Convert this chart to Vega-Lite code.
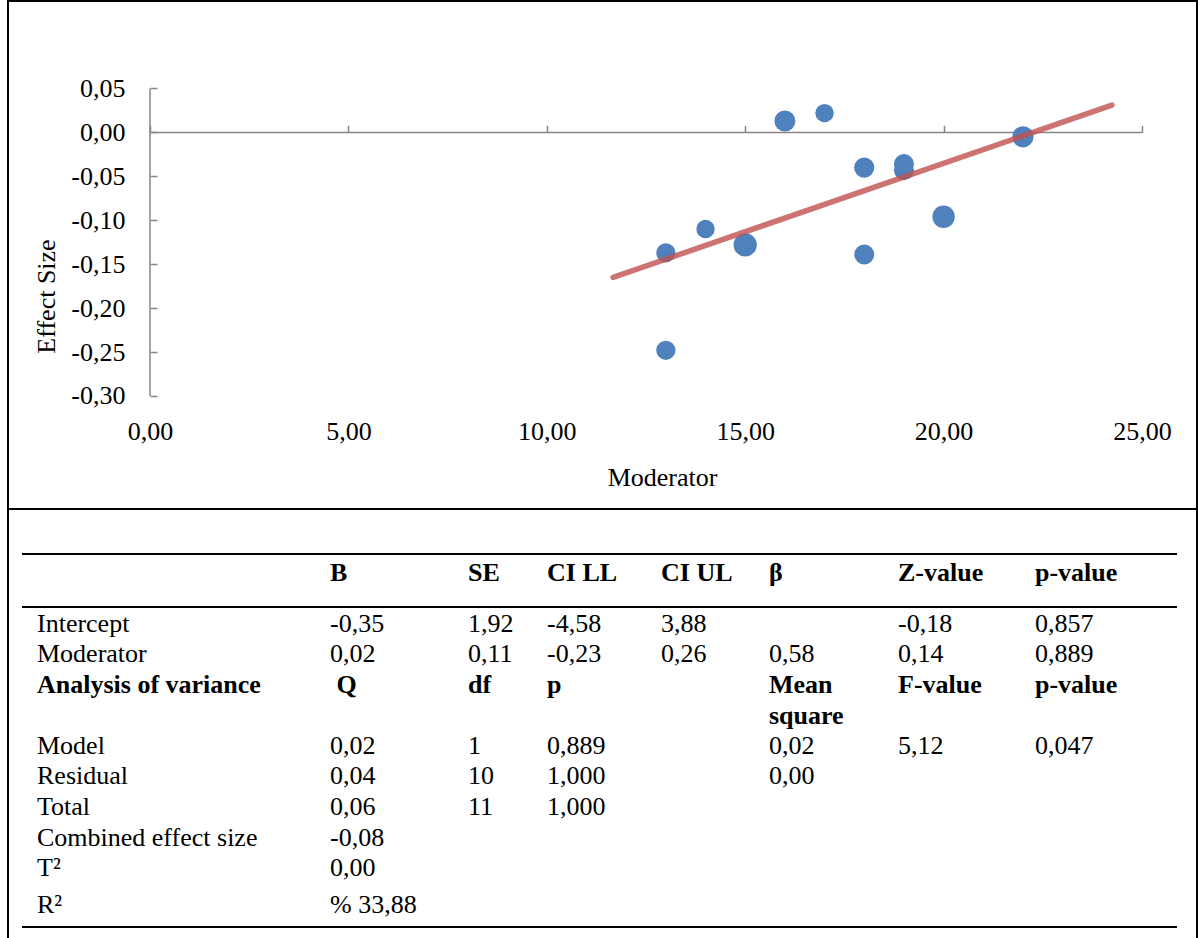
{
  "$schema": "https://vega.github.io/schema/vega-lite/v6.json",
  "background": "white",
  "padding": {"left": 7, "top": 0, "right": 0, "bottom": 0},
  "spacing": 0,
  "bounds": "flush",
  "config": {
    "font": "Liberation Serif",
    "view": {"stroke": "black", "strokeWidth": 2},
    "axis": {
      "labelFont": "Liberation Serif",
      "labelFontSize": 26,
      "labelColor": "black",
      "titleFont": "Liberation Serif",
      "titleFontSize": 26,
      "titleFontWeight": "normal",
      "titleColor": "black",
      "grid": false,
      "labelOverlap": false,
      "labelBound": false,
      "labelFlush": false
    }
  },
  "vconcat": [
    {
      "width": 1189,
      "height": 508,
      "view": {"stroke": "black", "strokeWidth": 2},
      "resolve": {"axis": {"x": "independent", "y": "independent"}},
      "layer": [
        {
          "data": {"values": [{}]},
          "mark": {"type": "rule", "color": "#868686", "strokeWidth": 1.5},
          "encoding": {
            "x": {"datum": 0, "type": "quantitative", "scale": {"domain": [-3.5786, 26.386], "nice": false, "zero": false}, "axis": null},
            "y": {"datum": -0.3, "type": "quantitative", "scale": {"domain": [-0.42862, 0.14959], "nice": false, "zero": false}, "axis": null},
            "y2": {"datum": 0.05}
          }
        },
        {
          "data": {"values": [{}]},
          "mark": {"type": "rule", "color": "#868686", "strokeWidth": 1.5},
          "encoding": {
            "x": {"datum": 0, "type": "quantitative", "scale": {"domain": [-3.5786, 26.386], "nice": false, "zero": false}, "axis": null},
            "x2": {"datum": 25},
            "y": {"datum": 0, "type": "quantitative", "scale": {"domain": [-0.42862, 0.14959], "nice": false, "zero": false}, "axis": null}
          }
        },
        {
          "data": {"values": [
            {"moderator": 13, "effect": -0.248, "weight": 37},
            {"moderator": 13, "effect": -0.137, "weight": 37},
            {"moderator": 14, "effect": -0.110, "weight": 34},
            {"moderator": 15, "effect": -0.128, "weight": 54},
            {"moderator": 16, "effect": 0.013, "weight": 44},
            {"moderator": 17, "effect": 0.022, "weight": 34},
            {"moderator": 18, "effect": -0.040, "weight": 41},
            {"moderator": 18, "effect": -0.139, "weight": 40},
            {"moderator": 19, "effect": -0.036, "weight": 40},
            {"moderator": 19, "effect": -0.043, "weight": 40},
            {"moderator": 20, "effect": -0.096, "weight": 50},
            {"moderator": 22, "effect": -0.005, "weight": 45}
          ]},
          "mark": {"type": "circle", "color": "#4F81BD", "opacity": 1},
          "encoding": {
            "x": {
              "field": "moderator", "type": "quantitative",
              "scale": {"domain": [-3.5786, 26.386], "nice": false, "zero": false},
              "axis": {
                "orient": "bottom", "offset": -113,
                "values": [0, 5, 10, 15, 20, 25],
                "domain": false, "ticks": false, "tickSize": 0, "labelPadding": 22,
                "labelExpr": "replace(replace(format(datum.value, '.2f'), '.', ','), '\u2212', '-')",
                "title": "Moderator", "titleX": 654, "titleY": 81,
                "titleAlign": "center", "titleBaseline": "middle"
              }
            },
            "y": {
              "field": "effect", "type": "quantitative",
              "scale": {"domain": [-0.42862, 0.14959], "nice": false, "zero": false},
              "axis": {
                "orient": "left", "offset": -142,
                "values": [-0.3, -0.25, -0.2, -0.15, -0.1, -0.05, 0, 0.05],
                "domain": false, "ticks": false, "tickSize": 0,
                "labelPadding": 25,
                "labelExpr": "replace(replace(format(datum.value, '.2f'), '.', ','), '\u2212', '-')",
                "title": "Effect Size", "titleX": -104, "titleY": 295, "titleAngle": -90,
                "titleAlign": "center", "titleBaseline": "middle"
              }
            },
            "size": {"field": "weight", "type": "quantitative", "scale": {"domain": [0, 60], "range": [0, 600]}, "legend": null}
          }
        },
        {
          "data": {"values": [
            {"moderator": 11.67, "effect": -0.165},
            {"moderator": 24.24, "effect": 0.031}
          ]},
          "mark": {"type": "line", "color": "#C0504D", "opacity": 0.8, "strokeWidth": 5.5, "strokeCap": "round"},
          "encoding": {
            "x": {
              "field": "moderator", "type": "quantitative",
              "scale": {"domain": [-3.5786, 26.386], "nice": false, "zero": false},
              "axis": {
                "orient": "top", "offset": -131.4,
                "values": [0, 5, 10, 15, 20, 25],
                "domain": false, "labels": false, "ticks": true,
                "tickSize": 7, "tickColor": "#868686", "tickWidth": 1.5, "title": null
              }
            },
            "y": {
              "field": "effect", "type": "quantitative",
              "scale": {"domain": [-0.42862, 0.14959], "nice": false, "zero": false},
              "axis": {
                "orient": "right", "offset": -1047,
                "values": [-0.3, -0.25, -0.2, -0.15, -0.1, -0.05, 0, 0.05],
                "domain": false, "labels": false, "ticks": true,
                "tickSize": 7, "tickColor": "#868686", "tickWidth": 1.5, "title": null
              }
            }
          }
        }
      ]
    },
    {
      "width": 1189,
      "height": 436,
      "view": {"stroke": "black", "strokeWidth": 2},
      "data": {"values": [
        {"r": 0, "c": 1, "role": "head", "text": "B"},
        {"r": 0, "c": 2, "role": "head", "text": "SE"},
        {"r": 0, "c": 3, "role": "head", "text": "CI LL"},
        {"r": 0, "c": 4, "role": "head", "text": "CI UL"},
        {"r": 0, "c": 5, "role": "head", "text": "β"},
        {"r": 0, "c": 6, "role": "head", "text": "Z-value"},
        {"r": 0, "c": 7, "role": "head", "text": "p-value"},
        {"r": 1, "c": 0, "role": "cell", "text": "Intercept"},
        {"r": 1, "c": 1, "role": "cell", "text": "-0,35"},
        {"r": 1, "c": 2, "role": "cell", "text": "1,92"},
        {"r": 1, "c": 3, "role": "cell", "text": "-4,58"},
        {"r": 1, "c": 4, "role": "cell", "text": "3,88"},
        {"r": 1, "c": 6, "role": "cell", "text": "-0,18"},
        {"r": 1, "c": 7, "role": "cell", "text": "0,857"},
        {"r": 2, "c": 0, "role": "cell", "text": "Moderator"},
        {"r": 2, "c": 1, "role": "cell", "text": "0,02"},
        {"r": 2, "c": 2, "role": "cell", "text": "0,11"},
        {"r": 2, "c": 3, "role": "cell", "text": "-0,23"},
        {"r": 2, "c": 4, "role": "cell", "text": "0,26"},
        {"r": 2, "c": 5, "role": "cell", "text": "0,58"},
        {"r": 2, "c": 6, "role": "cell", "text": "0,14"},
        {"r": 2, "c": 7, "role": "cell", "text": "0,889"},
        {"r": 3, "c": 0, "role": "head", "text": "Analysis of variance"},
        {"r": 3, "c": 1, "role": "head", "text": "\u200b\u00a0Q"},
        {"r": 3, "c": 2, "role": "head", "text": "df"},
        {"r": 3, "c": 3, "role": "head", "text": "p"},
        {"r": 3, "c": 5, "role": "head", "text": "Mean\nsquare"},
        {"r": 3, "c": 6, "role": "head", "text": "F-value"},
        {"r": 3, "c": 7, "role": "head", "text": "p-value"},
        {"r": 5, "c": 0, "role": "cell", "text": "Model"},
        {"r": 5, "c": 1, "role": "cell", "text": "0,02"},
        {"r": 5, "c": 2, "role": "cell", "text": "1"},
        {"r": 5, "c": 3, "role": "cell", "text": "0,889"},
        {"r": 5, "c": 5, "role": "cell", "text": "0,02"},
        {"r": 5, "c": 6, "role": "cell", "text": "5,12"},
        {"r": 5, "c": 7, "role": "cell", "text": "0,047"},
        {"r": 6, "c": 0, "role": "cell", "text": "Residual"},
        {"r": 6, "c": 1, "role": "cell", "text": "0,04"},
        {"r": 6, "c": 2, "role": "cell", "text": "10"},
        {"r": 6, "c": 3, "role": "cell", "text": "1,000"},
        {"r": 6, "c": 5, "role": "cell", "text": "0,00"},
        {"r": 7, "c": 0, "role": "cell", "text": "Total"},
        {"r": 7, "c": 1, "role": "cell", "text": "0,06"},
        {"r": 7, "c": 2, "role": "cell", "text": "11"},
        {"r": 7, "c": 3, "role": "cell", "text": "1,000"},
        {"r": 8, "c": 0, "role": "cell", "text": "Combined effect size"},
        {"r": 8, "c": 1, "role": "cell", "text": "-0,08"},
        {"r": 9, "c": 0, "role": "cell", "text": "T²"},
        {"r": 9, "c": 1, "role": "cell", "text": "0,00"},
        {"r": 10, "c": 0, "role": "cell", "text": "R²"},
        {"r": 10, "c": 1, "role": "cell", "text": "% 33,88"}
      ]},
      "layer": [
        {
          "data": {"values": [{}]},
          "mark": {"type": "rule", "color": "black", "strokeWidth": 2},
          "encoding": {
            "x": {"datum": -1, "type": "quantitative", "scale": {"domain": [-1, 0, 1, 2, 3, 4, 5, 6, 7, 8], "range": [14, 29, 322, 460, 539, 653, 761, 890, 1027, 1169], "nice": false, "zero": false}, "axis": null},
            "x2": {"datum": 8},
            "y": {"datum": -0.5, "type": "quantitative", "scale": {"domain": [-0.5, 0, 0.5, 1, 9, 10, 10.5], "range": [45, 50.6, 98, 101.6, 346.1, 382.6, 418], "nice": false, "zero": false}, "axis": null}
          }
        },
        {
          "data": {"values": [{}]},
          "mark": {"type": "rule", "color": "black", "strokeWidth": 2},
          "encoding": {
            "x": {"datum": -1, "type": "quantitative", "axis": null},
            "x2": {"datum": 8},
            "y": {"datum": 0.5, "type": "quantitative", "axis": null}
          }
        },
        {
          "data": {"values": [{}]},
          "mark": {"type": "rule", "color": "black", "strokeWidth": 2},
          "encoding": {
            "x": {"datum": -1, "type": "quantitative", "axis": null},
            "x2": {"datum": 8},
            "y": {"datum": 10.5, "type": "quantitative", "axis": null}
          }
        },
        {
          "transform": [{"filter": "datum.role === 'head'"}],
          "mark": {"type": "text", "align": "left", "baseline": "top", "font": "Liberation Serif", "fontSize": 26, "fontWeight": "bold", "color": "black", "lineBreak": "\n", "lineHeight": 31},
          "encoding": {
            "x": {"field": "c", "type": "quantitative", "axis": null},
            "y": {"field": "r", "type": "quantitative", "axis": null},
            "text": {"field": "text", "type": "nominal"}
          }
        },
        {
          "transform": [{"filter": "datum.role === 'cell'"}],
          "mark": {"type": "text", "align": "left", "baseline": "top", "font": "Liberation Serif", "fontSize": 26, "fontWeight": "normal", "color": "black"},
          "encoding": {
            "x": {"field": "c", "type": "quantitative", "axis": null},
            "y": {"field": "r", "type": "quantitative", "axis": null},
            "text": {"field": "text", "type": "nominal"}
          }
        }
      ]
    }
  ]
}
